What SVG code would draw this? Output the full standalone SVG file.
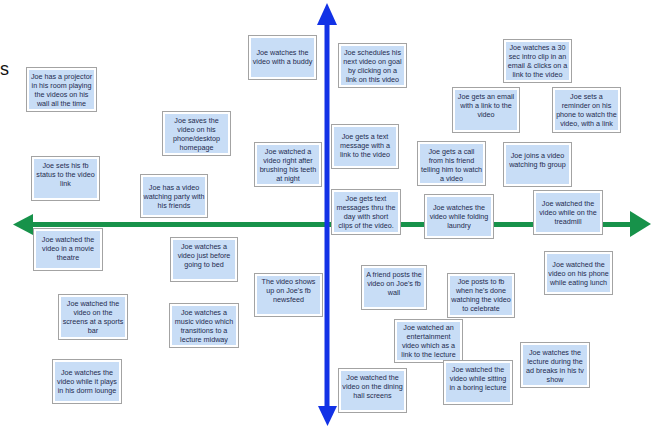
<svg xmlns="http://www.w3.org/2000/svg" width="652" height="427" viewBox="0 0 652 427">
<style>
.o{fill:#ffffff;stroke:#a3a3a3;stroke-width:1}
.i{fill:#c8ddf6}
.t{font-family:"Liberation Sans",Arial,sans-serif;font-size:7.2px;fill:#1e2b4f;text-anchor:middle}
.big{font-family:"Liberation Sans",Arial,sans-serif;font-size:18px;fill:#111}
.ax-b{stroke:#1232e6;stroke-width:5;fill:none}
.hd-b{fill:#1232e6}
.ax-g{stroke:#17924a;stroke-width:5;fill:none}
.hd-g{fill:#17924a}
</style>
<rect width="652" height="427" fill="#ffffff"/>
<text class="big" x="0" y="75">s</text>
<g id="connectors">
<line class="ax-g" x1="30" y1="224.5" x2="633" y2="224.5"/>
<polygon class="hd-g" points="13,224.5 33,214 33,235"/>
<polygon class="hd-g" points="651,224 630,211 630,237"/>
<line class="ax-b" x1="327" y1="22" x2="327" y2="408"/>
<polygon class="hd-b" points="327,3 317,25 337,25"/>
<polygon class="hd-b" points="327.5,426 318,406 337,406"/>
</g>
<g id="n1" transform="translate(26,67)"><rect class="o" x="0.5" y="0.5" width="70" height="44"/><rect class="i" x="3" y="3" width="65" height="39"/><text class="t"><tspan x="35.5" y="11.5">Joe has a projector</tspan><tspan x="35.5" y="20.5">in his room playing</tspan><tspan x="35.5" y="29.5">the videos on his</tspan><tspan x="35.5" y="38.5">wall all the time</tspan></text></g>
<g id="n2" transform="translate(162,111)"><rect class="o" x="0.5" y="0.5" width="68" height="44"/><rect class="i" x="3" y="3" width="63" height="39"/><text class="t"><tspan x="34.5" y="11.5">Joe saves the</tspan><tspan x="34.5" y="20.5">video on his</tspan><tspan x="34.5" y="29.5">phone/desktop</tspan><tspan x="34.5" y="38.5">homepage</tspan></text></g>
<g id="n3" transform="translate(248,35)"><rect class="o" x="0.5" y="0.5" width="68" height="44"/><rect class="i" x="3" y="3" width="63" height="39"/><text class="t"><tspan x="34.5" y="20">Joe watches the</tspan><tspan x="34.5" y="29">video with a buddy</tspan></text></g>
<g id="n4" transform="translate(338,43)"><rect class="o" x="0.5" y="0.5" width="68" height="44"/><rect class="i" x="3" y="3" width="63" height="39"/><text class="t"><tspan x="34.5" y="11.5">Joe schedules his</tspan><tspan x="34.5" y="20.5">next video on goal</tspan><tspan x="34.5" y="29.5">by clicking on a</tspan><tspan x="34.5" y="38.5">link on this video</tspan></text></g>
<g id="n5" transform="translate(503,39)"><rect class="o" x="0.5" y="0.5" width="68" height="43"/><rect class="i" x="3" y="3" width="63" height="38"/><text class="t"><tspan x="34.5" y="10.5">Joe watches a 30</tspan><tspan x="34.5" y="19.5">sec intro clip in an</tspan><tspan x="34.5" y="28.5">email &amp; clicks on a</tspan><tspan x="34.5" y="37.5">link to the video</tspan></text></g>
<g id="n6" transform="translate(452,87)"><rect class="o" x="0.5" y="0.5" width="67" height="45"/><rect class="i" x="3" y="3" width="62" height="40"/><text class="t"><tspan x="34" y="11.5">Joe gets an email</tspan><tspan x="34" y="20.5">with a link to the</tspan><tspan x="34" y="29.5">video</tspan></text></g>
<g id="n7" transform="translate(552,87)"><rect class="o" x="0.5" y="0.5" width="68" height="45"/><rect class="i" x="3" y="3" width="63" height="40"/><text class="t"><tspan x="34.5" y="12">Joe sets a</tspan><tspan x="34.5" y="21">reminder on his</tspan><tspan x="34.5" y="30">phone to watch the</tspan><tspan x="34.5" y="39">video, with a link</tspan></text></g>
<g id="n8" transform="translate(31,156)"><rect class="o" x="0.5" y="0.5" width="68" height="44"/><rect class="i" x="3" y="3" width="63" height="39"/><text class="t"><tspan x="34.5" y="11.5">Joe sets his fb</tspan><tspan x="34.5" y="20.5">status to the video</tspan><tspan x="34.5" y="29.5">link</tspan></text></g>
<g id="n9" transform="translate(140,174)"><rect class="o" x="0.5" y="0.5" width="67" height="43"/><rect class="i" x="3" y="3" width="62" height="38"/><text class="t"><tspan x="34" y="16">Joe has a video</tspan><tspan x="34" y="25">watching party with</tspan><tspan x="34" y="34">his friends</tspan></text></g>
<g id="n10" transform="translate(33,228)"><rect class="o" x="0.5" y="0.5" width="69" height="42"/><rect class="i" x="3" y="3" width="64" height="37"/><text class="t"><tspan x="35" y="13.5">Joe watched the</tspan><tspan x="35" y="22.5">video in a movie</tspan><tspan x="35" y="31.5">theatre</tspan></text></g>
<g id="n11" transform="translate(170,237)"><rect class="o" x="0.5" y="0.5" width="67" height="44"/><rect class="i" x="3" y="3" width="62" height="39"/><text class="t"><tspan x="34" y="12">Joe watches a</tspan><tspan x="34" y="21">video just before</tspan><tspan x="34" y="30">going to bed</tspan></text></g>
<g id="n12" transform="translate(254,142)"><rect class="o" x="0.5" y="0.5" width="67" height="44"/><rect class="i" x="3" y="3" width="62" height="39"/><text class="t"><tspan x="34" y="11.5">Joe watched a</tspan><tspan x="34" y="20.5">video right after</tspan><tspan x="34" y="29.5">brushing his teeth</tspan><tspan x="34" y="38.5">at night</tspan></text></g>
<g id="n13" transform="translate(331,124)"><rect class="o" x="0.5" y="0.5" width="67" height="44"/><rect class="i" x="3" y="3" width="62" height="39"/><text class="t"><tspan x="34" y="14.5">Joe gets a text</tspan><tspan x="34" y="23.5">message with a</tspan><tspan x="34" y="32.5">link to the video</tspan></text></g>
<g id="n14" transform="translate(417,141)"><rect class="o" x="0.5" y="0.5" width="68" height="44"/><rect class="i" x="3" y="3" width="63" height="39"/><text class="t"><tspan x="34.5" y="13">Joe gets a call</tspan><tspan x="34.5" y="22">from his friend</tspan><tspan x="34.5" y="31">telling him to watch</tspan><tspan x="34.5" y="40">a video</tspan></text></g>
<g id="n15" transform="translate(503,142)"><rect class="o" x="0.5" y="0.5" width="68" height="44"/><rect class="i" x="3" y="3" width="63" height="39"/><text class="t"><tspan x="34.5" y="15.5">Joe joins a video</tspan><tspan x="34.5" y="24.5">watching fb group</tspan></text></g>
<g id="n16" transform="translate(331,189)"><rect class="o" x="0.5" y="0.5" width="69" height="45"/><rect class="i" x="3" y="3" width="64" height="40"/><text class="t"><tspan x="35" y="12">Joe gets text</tspan><tspan x="35" y="21">messages thru the</tspan><tspan x="35" y="30">day with short</tspan><tspan x="35" y="39">clips of the video.</tspan></text></g>
<g id="n17" transform="translate(424,194)"><rect class="o" x="0.5" y="0.5" width="69" height="44"/><rect class="i" x="3" y="3" width="64" height="39"/><text class="t"><tspan x="35" y="16">Joe watches the</tspan><tspan x="35" y="25">video while folding</tspan><tspan x="35" y="34">laundry</tspan></text></g>
<g id="n18" transform="translate(533,190)"><rect class="o" x="0.5" y="0.5" width="69" height="44"/><rect class="i" x="3" y="3" width="64" height="39"/><text class="t"><tspan x="35" y="15.5">Joe watched the</tspan><tspan x="35" y="24.5">video while on the</tspan><tspan x="35" y="33.5">treadmill</tspan></text></g>
<g id="n19" transform="translate(544,251)"><rect class="o" x="0.5" y="0.5" width="68" height="43"/><rect class="i" x="3" y="3" width="63" height="38"/><text class="t"><tspan x="34.5" y="16">Joe watched the</tspan><tspan x="34.5" y="25">video on his phone</tspan><tspan x="34.5" y="34">while eating lunch</tspan></text></g>
<g id="n20" transform="translate(254,273)"><rect class="o" x="0.5" y="0.5" width="68" height="43"/><rect class="i" x="3" y="3" width="63" height="38"/><text class="t"><tspan x="34.5" y="10.5">The video shows</tspan><tspan x="34.5" y="19.5">up on Joe's fb</tspan><tspan x="34.5" y="28.5">newsfeed</tspan></text></g>
<g id="n21" transform="translate(361,265)"><rect class="o" x="0.5" y="0.5" width="65" height="44"/><rect class="i" x="3" y="3" width="60" height="39"/><text class="t"><tspan x="33" y="12">A friend posts the</tspan><tspan x="33" y="21">video on Joe's fb</tspan><tspan x="33" y="30">wall</tspan></text></g>
<g id="n22" transform="translate(447,273)"><rect class="o" x="0.5" y="0.5" width="67" height="44"/><rect class="i" x="3" y="3" width="62" height="39"/><text class="t"><tspan x="34" y="11">Joe posts to fb</tspan><tspan x="34" y="20">when he's done</tspan><tspan x="34" y="29">watching the video</tspan><tspan x="34" y="38">to celebrate</tspan></text></g>
<g id="n23" transform="translate(394,319)"><rect class="o" x="0.5" y="0.5" width="68" height="43"/><rect class="i" x="3" y="3" width="63" height="38"/><text class="t"><tspan x="34.5" y="11">Joe watched an</tspan><tspan x="34.5" y="20">entertainment</tspan><tspan x="34.5" y="29">video which as a</tspan><tspan x="34.5" y="38">link to the lecture</tspan></text></g>
<g id="n24" transform="translate(443,360)"><rect class="o" x="0.5" y="0.5" width="69" height="44"/><rect class="i" x="3" y="3" width="64" height="39"/><text class="t"><tspan x="35" y="11.5">Joe watched the</tspan><tspan x="35" y="20.5">video while sitting</tspan><tspan x="35" y="29.5">in a boring lecture</tspan></text></g>
<g id="n25" transform="translate(520,342)"><rect class="o" x="0.5" y="0.5" width="69" height="45"/><rect class="i" x="3" y="3" width="64" height="40"/><text class="t"><tspan x="35" y="13">Joe watches the</tspan><tspan x="35" y="22">lecture during the</tspan><tspan x="35" y="31">ad breaks in his tv</tspan><tspan x="35" y="40">show</tspan></text></g>
<g id="n26" transform="translate(338,368)"><rect class="o" x="0.5" y="0.5" width="68" height="44"/><rect class="i" x="3" y="3" width="63" height="39"/><text class="t"><tspan x="34.5" y="11.5">Joe watched the</tspan><tspan x="34.5" y="20.5">video on the dining</tspan><tspan x="34.5" y="29.5">hall screens</tspan></text></g>
<g id="n27" transform="translate(58,294)"><rect class="o" x="0.5" y="0.5" width="69" height="45"/><rect class="i" x="3" y="3" width="64" height="40"/><text class="t"><tspan x="35" y="12">Joe watched the</tspan><tspan x="35" y="21">video on the</tspan><tspan x="35" y="30">screens at a sports</tspan><tspan x="35" y="39">bar</tspan></text></g>
<g id="n28" transform="translate(169,303)"><rect class="o" x="0.5" y="0.5" width="69" height="44"/><rect class="i" x="3" y="3" width="64" height="39"/><text class="t"><tspan x="35" y="11.5">Joe watches a</tspan><tspan x="35" y="20.5">music video which</tspan><tspan x="35" y="29.5">transitions to a</tspan><tspan x="35" y="38.5">lecture midway</tspan></text></g>
<g id="n29" transform="translate(52,359)"><rect class="o" x="0.5" y="0.5" width="69" height="44"/><rect class="i" x="3" y="3" width="64" height="39"/><text class="t"><tspan x="35" y="16">Joe watches the</tspan><tspan x="35" y="25">video while it plays</tspan><tspan x="35" y="34">in his dorm lounge</tspan></text></g>
</svg>
